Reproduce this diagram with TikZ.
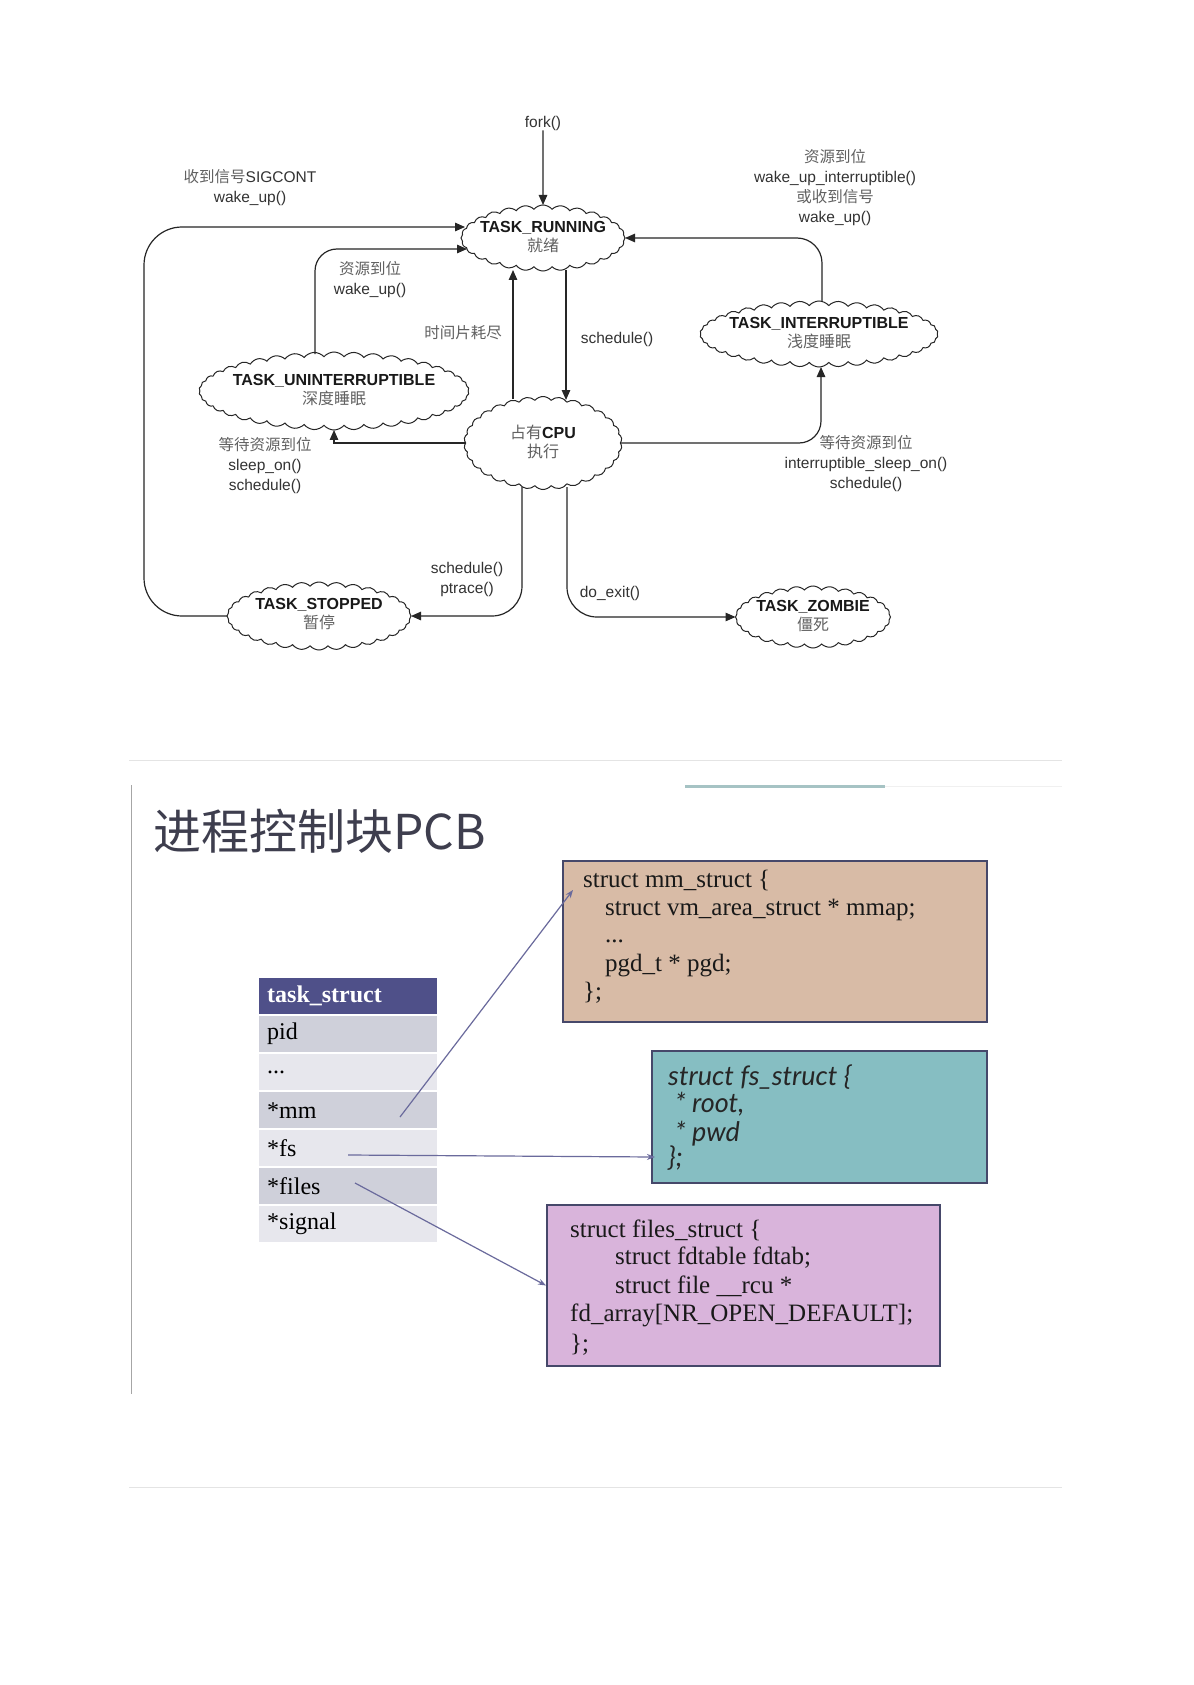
\documentclass[tikz,border=0pt]{standalone}
\usepackage{fontspec}
\setmainfont{Liberation Serif}
\newfontfamily\lsans{Liberation Sans}
\newfontfamily\cjk{Noto Sans CJK SC}
\newfontfamily\handf{Lato}
\usetikzlibrary{shapes.symbols,arrows.meta,calc}
\definecolor{hdr}{HTML}{4F5089}
\definecolor{rowA}{HTML}{CFD0DA}
\definecolor{rowB}{HTML}{E7E7ED}
\definecolor{mmfill}{HTML}{D8BBA6}
\definecolor{fsfill}{HTML}{86BEC2}
\definecolor{filesfill}{HTML}{D9B4DB}
\definecolor{boxline}{HTML}{46486A}
\definecolor{ptr}{HTML}{6A6A9C}
\definecolor{titlec}{HTML}{3E3E4E}
\definecolor{tealbar}{HTML}{A6C3C4}
\definecolor{sepc}{HTML}{E4E4E4}
\newcommand\zhtxt[1]{{\cjk\mdseries\color{black!62}#1}}
\begin{document}
\begin{tikzpicture}[x=1pt,y=-1pt,
  cloudy/.style={cloud, draw=black!85, line width=1pt, fill=white, cloud puffs=#1,
    cloud puff arc=100, cloud ignores aspect, inner sep=0pt, outer sep=0pt},
  stname/.style={inner sep=0pt, align=center, font=\lsans\bfseries\fontsize{16}{19.5}\selectfont, text=black!90},
  lbl/.style={inner sep=0pt, align=center, font=\lsans\fontsize{15.5}{20}\selectfont, text=black!80},
  arr/.style={draw=black!85, line width=1.2pt, -{Triangle[length=10pt,width=8.5pt]}},
  rowbox/.style={anchor=north west, minimum width=178pt, minimum height=36pt, inner xsep=8pt,
    inner ysep=0pt, text width=162pt, align=left, font=\fontsize{24}{26}\selectfont},
  codebox/.style={anchor=north west, draw=boxline, line width=2pt},
  code/.style={anchor=base west, inner sep=0pt, font=\fontsize{25}{28}\selectfont, text=black!90},
  hcode/.style={anchor=base west, inner sep=0pt, font=\handf\itshape\fontsize{27}{28}\selectfont, text=black!85},
  ptrarr/.style={draw=ptr, line width=1.2pt, -{Stealth[length=8pt,width=6pt]}},
  sepline/.style={draw=sepc, line width=1pt}
]
\fill[white] (0,0) rectangle (1193,1685);
\useasboundingbox (0,0) rectangle (1193,1685);

% ---------- state diagram ----------
\node[cloudy=28, minimum width=164pt, minimum height=66pt] (run) at (543,238) {};
\node[stname] (runT) at (543,237) {TASK\_RUNNING\\\zhtxt{就绪}};
\node[cloudy=38, minimum width=238pt, minimum height=66pt] (int) at (819,334) {};
\node[stname] (intT) at (819,333) {TASK\_INTERRUPTIBLE\\\zhtxt{浅度睡眠}};
\node[cloudy=42, minimum width=270pt, minimum height=78pt] (unint) at (334,391) {};
\node[stname] (unintT) at (334,390) {TASK\_UNINTERRUPTIBLE\\\zhtxt{深度睡眠}};
\node[cloudy=30, minimum width=158pt, minimum height=93pt] (cpu) at (543,443) {};
\node[stname] (cpuT) at (543,442) {\zhtxt{占有}CPU\\\zhtxt{执行}};
\node[cloudy=32, minimum width=184pt, minimum height=68pt] (stop) at (319,616) {};
\node[stname] (stopT) at (319,614) {TASK\_STOPPED\\\zhtxt{暂停}};
\node[cloudy=28, minimum width=155pt, minimum height=62pt] (zomb) at (813,617) {};
\node[stname] (zombT) at (813,616) {TASK\_ZOMBIE\\\zhtxt{僵死}};

\node[lbl] (fork) at (543,123) {fork()};
\node[lbl] (sigL) at (250,188) {\zhtxt{收到信号}SIGCONT\\wake\_up()};
\node[lbl] (resL) at (370,280) {\zhtxt{资源到位}\\wake\_up()};
\node[lbl] (timeL) at (463,333) {\zhtxt{时间片耗尽}};
\node[lbl] (schL) at (617,339) {schedule()};
\node[lbl] (intL) at (835,188) {\zhtxt{资源到位}\\wake\_up\_interruptible()\\\zhtxt{或收到信号}\\wake\_up()};
\node[lbl] (slL) at (265,466) {\zhtxt{等待资源到位}\\sleep\_on()\\schedule()};
\node[lbl] (islL) at (866,464) {\zhtxt{等待资源到位}\\interruptible\_sleep\_on()\\schedule()};
\node[lbl] (ptL) at (467,579) {schedule()\\ptrace()};
\node[lbl] (exL) at (610,593) {do\_exit()};

\draw[arr] (fork) -- (run.north);
\draw[arr, rounded corners=38pt] (stop.west) -- ++(-83,0) |- ($(run.center)+(-78,-11)$);
\draw[arr, rounded corners=22pt] ($(unint.north)+(-19,2)$) |- ($(run.center)+(-76,11)$);
\draw[arr] ($(cpu.center)+(-30,-44)$) -- ($(run.center)+(-30,32)$);
\draw[arr] ($(run.center)+(23,32)$) -- ($(cpu.center)+(23,-43)$);
\draw[arr, rounded corners=25pt] ($(int.north)+(3,0)$) |- (run.east);
\draw[arr] (cpu.west) -| (unint.south);
\draw[arr, rounded corners=22pt] (cpu.east) -| ($(int.south)+(2,0)$);
\draw[arr, rounded corners=30pt] ($(cpu.center)+(-21,44)$) |- (stop.east);
\draw[arr, rounded corners=30pt] ($(cpu.center)+(24,44)$) |- (zomb.west);

% ---------- separators ----------
\draw[sepline] (129,760) -- (1062,760);
\draw[sepline] (129,1487) -- (1062,1487);
\draw[draw=black!35, line width=1pt] (131,785) -- (131,1394);
\draw[draw=tealbar, line width=3pt] (685,786) -- (885,786);
\draw[draw=black!6, line width=1pt] (885,786) -- (1062,786);

% ---------- PCB ----------
\node[anchor=west, inner sep=0pt, font=\cjk\fontsize{48}{50}\selectfont, text=titlec] (title) at (153,831) {进程控制块PCB};

\node[rowbox, fill=hdr, text=white, font=\bfseries\fontsize{24}{26}\selectfont] (hd) at (259,978) {task\_struct};
\node[rowbox, fill=rowA] (pid) at (259,1016) {pid};
\node[rowbox, fill=rowB] (dots) at (259,1054) {...};
\node[rowbox, fill=rowA] (mmr) at (259,1092) {*mm};
\node[rowbox, fill=rowB] (fsr) at (259,1130) {*fs};
\node[rowbox, fill=rowA] (filesr) at (259,1168) {*files};
\node[rowbox, fill=rowB] (sigr) at (259,1206) {*signal};

\node[codebox, fill=mmfill, minimum width=424pt, minimum height=161pt] (mm) at (562,860) {};
\node[code] (mm1) at (583,887) {struct mm\_struct \{};
\node[code] (mm2) at (605,915) {struct vm\_area\_struct * mmap;};
\node[code] (mm3) at (605,942) {...};
\node[code] (mm4) at (605,971) {pgd\_t * pgd;};
\node[code] (mm5) at (583,999) {\};};

\node[codebox, fill=fsfill, minimum width=335pt, minimum height=132pt] (fs) at (651,1050) {};
\node[hcode] (fs1) at (668,1085) {struct fs\_struct \{};
\node[hcode] (fs2) at (675,1112) {* root,};
\node[hcode] (fs3) at (675,1141) {* pwd};
\node[hcode] (fs4) at (668,1166) {\};};

\node[codebox, fill=filesfill, minimum width=393pt, minimum height=161pt] (files) at (546,1204) {};
\node[code] (fl1) at (570,1237) {struct files\_struct \{};
\node[code] (fl2) at (615,1264) {struct fdtable fdtab;};
\node[code] (fl3) at (615,1293) {struct file \_\_rcu *};
\node[code] (fl4) at (570,1321) {fd\_array[NR\_OPEN\_DEFAULT];};
\node[code] (fl5) at (570,1351) {\};};

\coordinate (mmS) at (400,1117);
\coordinate (fsS) at (348,1155);
\coordinate (filesS) at (355,1183);
\draw[ptrarr] (mmS) -- ($(mm.north west)+(11,30)$);
\draw[ptrarr] (fsS) -- ($(fs.south west)+(4,-27)$);
\draw[ptrarr] (filesS) -- (files.west);
\end{tikzpicture}
\end{document}
